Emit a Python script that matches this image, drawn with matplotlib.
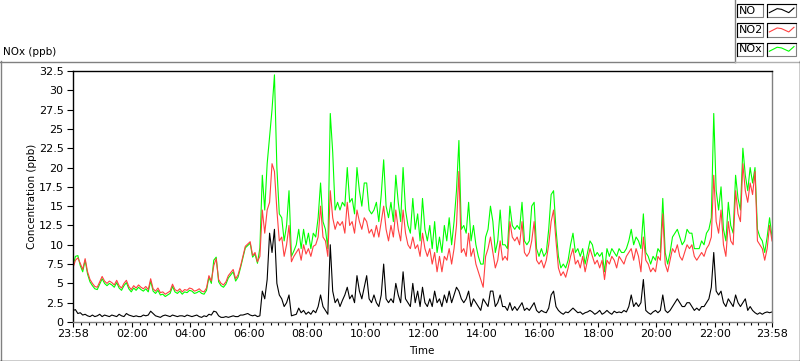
import matplotlib
matplotlib.use("Agg")
import matplotlib.pyplot as plt
import numpy as np
from matplotlib.lines import Line2D
from matplotlib.patches import Rectangle
from matplotlib.ticker import FixedLocator, FuncFormatter

# ==================== Data (5 min steps from 23:58 to 23:58) ====================
no = [
    1.5, 1.6, 1.1, 1.2, 0.9, 1.0, 0.8, 0.7, 0.9, 0.7,
    0.8, 1.0, 0.7, 0.9, 0.8, 0.7, 0.9, 0.8, 0.7, 1.0,
    0.8, 0.7, 1.1, 0.9, 0.8, 0.7, 0.8, 0.7, 0.7, 0.9,
    0.8, 0.9, 1.4, 1.1, 0.8, 0.7, 0.6, 0.8, 0.9, 0.8,
    0.7, 0.9, 0.8, 0.7, 0.8, 0.8, 0.7, 0.9, 0.8, 0.7,
    0.8, 0.9, 0.7, 0.6, 0.8, 0.7, 1.0, 0.9, 1.4, 1.3,
    0.8, 0.6, 0.6, 0.7, 0.6, 0.7, 0.8, 0.7, 0.7, 0.9,
    0.9, 1.0, 1.1, 0.9, 0.8, 0.9, 0.7, 0.8,
    4.0, 3.0, 5.5, 11.5, 9.0, 12.0, 5.0, 3.5, 3.0, 2.0,
    2.5, 3.5, 0.8, 0.9, 1.0, 1.8, 1.2, 1.5, 1.0, 1.3,
    1.0, 1.5, 1.2, 2.0, 3.5, 2.0, 1.5, 1.0, 10.0, 4.0,
    2.5, 3.0, 2.0, 2.8, 3.5, 4.5, 3.0, 3.5, 2.5, 6.0,
    4.0, 3.0, 4.5, 6.0, 3.0, 2.5, 3.5, 2.5, 2.0, 3.5,
    7.5, 3.0, 2.5, 3.0, 2.5, 5.0, 3.5, 2.5, 6.5, 3.0,
    2.5, 2.0, 5.0, 2.5, 4.0, 2.0, 4.5, 2.5, 2.0, 3.0,
    2.0, 4.0, 2.5, 3.0,
    2.0, 3.5, 2.5, 4.0, 2.5, 3.5, 4.5, 4.0, 3.0, 2.5,
    3.0, 4.0, 2.0, 3.0, 2.5, 2.0, 1.5, 3.0, 2.5, 2.0,
    4.0, 4.0, 2.0, 2.5, 3.5, 2.0, 2.0, 1.5, 2.5, 1.5,
    2.0, 1.5, 2.0, 2.5, 1.5, 1.8, 1.5, 2.0, 2.5, 1.5,
    1.2, 1.5, 1.3, 1.2, 1.8, 3.5, 4.0, 2.0, 1.5, 1.2,
    1.0, 1.3, 1.2, 1.5, 1.8, 1.5, 1.2, 1.3, 1.0, 1.2,
    1.3, 1.5, 1.3, 1.0, 1.2, 1.5, 1.0, 1.2, 1.5, 1.2,
    1.0, 1.4, 1.2, 1.3,
    1.2, 1.5, 1.3, 2.0, 3.5, 2.0, 2.5, 2.0, 2.5, 5.5,
    1.5, 1.2, 1.0, 1.3, 1.5, 1.2, 1.5, 3.5, 1.5, 1.2,
    1.5, 2.0, 2.5, 3.0, 2.5, 2.0, 2.0, 2.5, 2.5, 2.0,
    1.5, 1.8, 1.5, 2.0, 2.0, 2.5, 3.0, 4.5, 9.0, 4.0,
    3.5, 4.0, 2.5, 2.0, 3.0, 2.5, 2.0, 3.5, 2.5, 2.0,
    2.5, 3.0, 1.5, 2.0, 1.5, 1.2, 1.0, 1.2, 1.0, 1.2,
    1.3, 1.2, 1.3,
]

no2 = [
    7.0, 8.0, 8.3, 7.6, 6.8, 8.2, 6.5, 5.5, 5.0, 4.6,
    4.5, 5.2, 5.9, 5.3, 5.0, 5.3, 5.1, 4.8, 5.4, 4.7,
    4.4, 5.0, 5.4, 4.6, 4.2, 4.7, 4.4, 4.8, 4.5, 4.3,
    4.6, 4.2, 5.6, 4.3, 4.0, 4.4, 3.8, 3.9, 3.6, 3.8,
    4.0, 4.9, 4.2, 4.0, 4.3, 3.9, 4.2, 4.1, 4.4, 4.3,
    4.0, 4.1, 4.3, 4.0, 3.9, 4.4, 6.0, 5.3, 7.3, 8.2,
    5.5, 5.0, 4.8, 5.2, 6.0, 6.4, 6.8, 5.6, 6.1, 7.2,
    8.5, 9.8, 10.1, 10.4, 8.6, 9.0, 7.8, 8.5,
    14.5, 11.5, 14.5, 15.5, 20.5, 19.5, 14.5, 10.5, 11.0, 8.5,
    10.0, 12.5, 7.8, 8.5, 9.0, 9.5, 8.0, 10.0, 8.8, 9.5,
    8.5, 9.8, 10.0, 11.0, 15.0, 11.0, 10.5, 8.5, 17.0, 13.5,
    12.0, 13.0, 12.5, 13.0, 11.5, 15.5, 12.5, 13.0, 11.5, 14.5,
    13.0, 12.0, 13.5, 13.0, 11.5, 12.0, 11.0, 12.5, 11.0, 13.0,
    15.0, 12.0, 10.5, 12.5, 11.0, 14.5, 12.0, 10.5, 14.5, 11.5,
    10.0, 9.5, 11.0, 9.5, 10.0, 8.5, 11.5, 9.5, 8.5, 9.5,
    7.5, 9.0, 6.5, 8.5,
    6.5, 8.5, 8.0, 9.5, 7.5, 9.5, 12.5, 19.5, 9.0, 9.5,
    8.5, 11.5, 8.5, 9.5, 7.5, 6.5, 5.5, 4.5, 8.5, 9.5,
    11.0, 9.0, 7.0, 8.0, 10.5, 8.0, 8.5, 8.0, 13.0, 11.0,
    10.5, 11.0, 10.0, 13.0, 9.0, 8.5, 9.0, 10.5, 13.0, 8.0,
    7.5, 8.0, 7.0, 8.0, 10.0, 13.0, 14.5, 10.5, 7.0, 6.0,
    6.5, 5.8, 7.0, 8.5, 9.5, 7.5, 8.0, 7.0, 8.5, 6.5,
    8.0, 9.5, 8.5, 7.5, 8.0, 7.0, 8.0, 5.5, 8.0, 7.5,
    8.5, 8.0, 7.0, 8.5,
    8.0, 7.5, 8.5, 9.0, 9.5, 8.0, 9.5, 8.5, 6.5, 11.0,
    8.0, 7.5, 6.5, 7.0, 6.5, 8.5, 8.0, 14.0, 7.5, 6.5,
    8.0, 9.5, 9.0, 10.0, 8.5, 8.0, 9.0, 10.0, 9.5, 10.0,
    8.5, 8.0, 8.5, 9.0, 8.5, 9.5, 10.0, 11.0, 19.0, 13.0,
    11.5, 14.5, 10.0, 8.5, 13.0, 10.5, 10.0, 17.0, 14.0, 13.0,
    20.5, 17.0, 15.5, 18.0, 16.5, 19.5, 10.5, 10.0, 9.5, 8.0,
    9.5, 12.5, 10.5,
]

nox = [
    7.2, 8.5, 8.6, 7.3, 6.5, 8.0, 6.2, 5.2, 4.7, 4.3,
    4.2, 4.9, 5.6, 5.0, 4.7, 5.0, 4.8, 4.5, 5.1, 4.4,
    4.1, 4.7, 5.1, 4.3, 3.9, 4.4, 4.1, 4.5, 4.2, 4.0,
    4.3, 3.9, 5.3, 4.0, 3.7, 4.1, 3.5, 3.6, 3.3, 3.5,
    3.7, 4.6, 3.9, 3.7, 4.0, 3.6, 3.9, 3.8, 4.1, 4.0,
    3.7, 3.8, 4.0, 3.7, 3.6, 4.1, 5.8, 5.0, 8.0, 8.4,
    5.2, 4.7, 4.5, 4.9, 5.7, 6.1, 6.5, 5.3, 5.8, 7.0,
    8.3, 9.6, 9.9, 10.2, 8.4, 8.8, 7.6, 9.6,
    19.0, 14.5, 20.5, 24.0, 27.5, 32.0, 20.0, 14.0, 13.5, 10.5,
    12.5, 17.0, 8.5, 9.2, 10.0, 12.0, 9.5, 12.0, 10.0, 11.5,
    9.5, 11.5, 11.0, 13.5, 18.0, 13.0, 12.0, 9.5, 27.0, 22.0,
    14.5, 15.5, 14.5, 15.5, 15.0, 20.0, 15.5, 16.0, 14.0, 20.0,
    17.0, 15.0, 18.0, 18.0, 14.5, 14.0, 14.5, 15.5, 13.0, 16.5,
    21.0, 15.0, 13.5, 15.5, 13.0, 19.0, 15.5, 13.0, 20.0, 14.5,
    12.5, 11.5, 16.0, 12.0, 14.0, 10.5, 16.0, 12.0, 10.5, 12.5,
    9.5, 13.0, 9.0, 11.0,
    9.0, 12.5, 10.5, 13.5, 10.0, 13.0, 17.0, 23.5, 12.0, 12.5,
    11.5, 15.5, 10.5, 12.5, 10.0, 8.5, 7.5, 7.5, 11.0, 12.0,
    15.0, 13.0, 9.0, 10.5, 14.5, 10.0, 10.0, 9.5, 15.0, 12.5,
    12.0, 12.5, 12.0, 15.5, 10.5, 10.0, 10.5, 15.0, 15.5, 9.5,
    8.5, 9.5, 8.5, 9.0, 12.0, 16.5, 17.0, 12.0, 8.5, 7.0,
    7.5, 7.0, 8.0, 10.0, 11.5, 9.0, 9.5, 8.5, 9.5, 7.5,
    9.0, 10.5, 10.0, 8.5, 9.0, 8.5, 9.0, 6.5, 9.5, 8.5,
    9.5, 9.0, 8.5, 9.5,
    9.0, 9.0, 9.5, 10.5, 12.0, 10.0, 11.0, 10.5, 9.5, 14.0,
    9.0, 8.5, 7.5, 8.5, 8.0, 9.5, 9.0, 16.0, 9.0, 7.5,
    9.0, 11.0, 11.5, 12.0, 11.0, 10.0, 10.5, 12.0, 11.5, 11.5,
    9.5, 9.5, 9.5, 10.5, 10.0, 11.5, 12.0, 13.5, 27.0, 17.0,
    14.5, 17.5, 12.0, 10.5, 15.5, 12.5, 11.5, 19.0, 16.0, 14.5,
    22.5, 19.0, 17.0, 20.0, 18.0, 20.0, 12.0, 11.0, 10.5, 9.0,
    11.0, 13.5, 11.0,
]

series_names = ["NO", "NO2", "NOx"]
series_colors = ["black", "#FF4040", "#00FF00"]

x_labels = ["23:58", "02:00", "04:00", "06:00", "08:00", "10:00", "12:00",
            "14:00", "16:00", "18:00", "20:00", "22:00", "23:58"]
y_ticks = np.arange(0, 32.6, 2.5)

# ==================== Figure ====================
W, H = 800, 361


def fx(x):
    return x / W


def fy(y):
    return 1 - y / H


fig = plt.figure(figsize=(W / 100, H / 100), dpi=100)
fig.patch.set_facecolor("white")
ax = fig.add_axes([fx(73), fy(322), (772 - 73) / W, (322 - 71) / H])

t_no = np.linspace(0, 1440, len(no))
t_no2 = np.linspace(0, 1440, len(no2))
t_nox = np.linspace(0, 1440, len(nox))
ax.plot(t_nox, nox, color=series_colors[2], lw=0.8)
ax.plot(t_no2, no2, color=series_colors[1], lw=0.8)
ax.plot(t_no, no, color=series_colors[0], lw=0.8)

ax.set_xlim(0, 1440)
ax.set_ylim(0, 32.5)

# minutes since 23:58 for each clock label
def minutes(lbl, i):
    if i == 0:
        return 0
    if i == len(x_labels) - 1:
        return 1440
    h, m = map(int, lbl.split(":"))
    return h * 60 + m + 2

major = [minutes(l, i) for i, l in enumerate(x_labels)]
ax.xaxis.set_major_locator(FixedLocator(major))
ax.set_xticklabels(x_labels)
ax.xaxis.set_minor_locator(FixedLocator(np.arange(17, 1440, 15)))
ax.yaxis.set_major_locator(FixedLocator(y_ticks))
ax.yaxis.set_major_formatter(FuncFormatter(lambda v, p: "%g" % v))

ax.tick_params(axis="x", which="major", length=3.8, width=0.8, pad=1.5,
               labelsize=8, direction="out")
ax.tick_params(axis="x", which="minor", length=2.3, width=0.8, direction="out")
ax.tick_params(axis="y", which="major", length=4.3, width=0.8, pad=2.5,
               labelsize=8, direction="out")

for side in ["top", "left"]:
    ax.spines[side].set_color("black")
    ax.spines[side].set_linewidth(1.0)
for side in ["bottom", "right"]:
    ax.spines[side].set_color("#808080")
    ax.spines[side].set_linewidth(1.0)

fig.text(fx(3), fy(52), "NOx (ppb)", ha="left", va="center", fontsize=7.5)
fig.text(fx(422), fy(351), "Time", ha="center", va="center", fontsize=7.5)
fig.text(fx(32), fy(196), "Concentration (ppb)", rotation=90,
         ha="center", va="center", fontsize=7.5)

# ==================== Panel frame ====================
gray = "#808080"
frame = [
    ([0.5, 0.5], [61, 361], gray),
    ([0, 734.5], [61.5, 61.5], gray),
    ([734.5, 734.5], [0, 61.5], gray),
    ([734.5, 800], [61.5, 61.5], "#B0B0B0"),
    ([799.5, 799.5], [61, 361], "black"),
    ([0, 800], [360.5, 360.5], "black"),
]
for xs, ys, c in frame:
    fig.add_artist(Line2D([fx(v) for v in xs], [fy(v) for v in ys],
                          color=c, lw=1.0))

# ==================== Legend ====================
zig_x = [0.08, 0.35, 0.5, 0.75, 0.93]
zig_y = [0.65, 0.35, 0.4, 0.65, 0.3]
for k, (name, col) in enumerate(zip(series_names, series_colors)):
    top = 4 + 19.3 * k
    hgt = 13.3
    for left, wid in [(737, 26), (767, 29)]:
        fig.add_artist(Rectangle((fx(left), fy(top + hgt)), wid / W, hgt / H,
                                 transform=fig.transFigure, facecolor="white",
                                 edgecolor=gray, lw=0.8))
        fig.add_artist(Line2D([fx(left), fx(left), fx(left + wid)],
                              [fy(top + hgt), fy(top), fy(top)],
                              color="black", lw=0.8))
    fig.text(fx(739), fy(top + hgt / 2), name, ha="left", va="center",
             fontsize=8)
    fig.add_artist(Line2D([fx(767 + 29 * a) for a in zig_x],
                          [fy(top + hgt * b) for b in zig_y],
                          color=col, lw=0.8))

fig.savefig("out.png", dpi=100)
